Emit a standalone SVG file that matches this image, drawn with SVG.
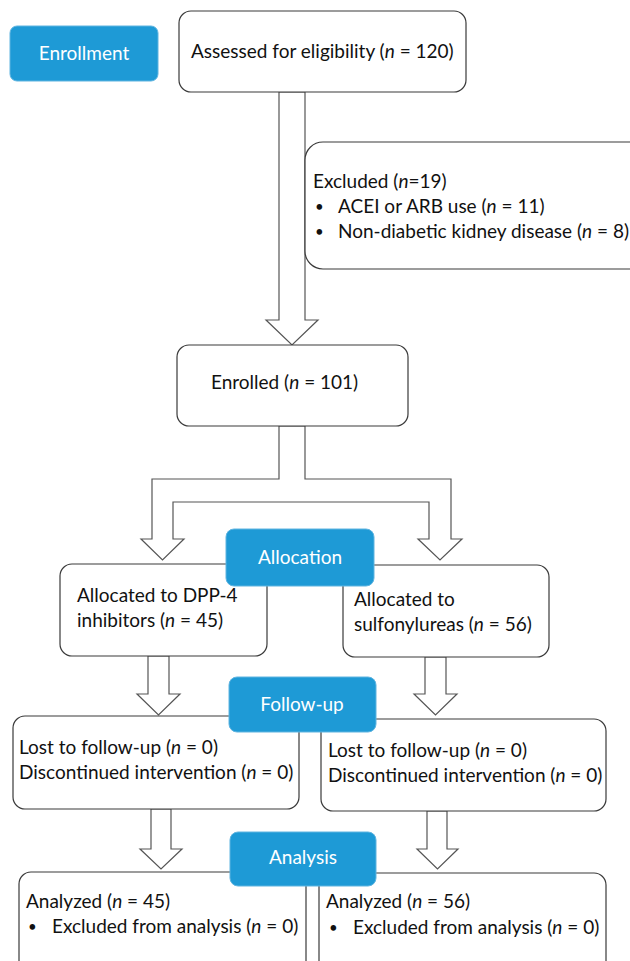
<svg xmlns="http://www.w3.org/2000/svg" width="630" height="961" viewBox="0 0 630 961">
<style>
.box{fill:#ffffff;stroke:#3a3a3a;stroke-width:1.2}
.stage{fill:#1e9ad6;stroke:#5fb4e0;stroke-width:1}
.arrow{fill:#ffffff;stroke:#555555;stroke-width:1.2;stroke-linejoin:miter}
.t{font-family:Lato,"Liberation Sans",sans-serif;font-size:19px;fill:#111111}
.b{font-family:Lato,"Liberation Sans",sans-serif;font-size:15px;fill:#111111}
.st{font-family:Lato,"Liberation Sans",sans-serif;font-size:19px;fill:#ffffff;text-anchor:middle}
.i{font-style:italic}
</style>
<rect width="630" height="961" fill="#ffffff"/>
<g id="connectors">
<polygon class="arrow" points="279,92 305,92 305,320 318,320 292,345 266,320 279,320"/>
<polygon class="arrow" points="279,426 279,479 152,479 152,539 141,539 162.5,560 184,539 173,539 173,502 429,502 429,539 418,539 440,560 462,539 451,539 451,479 305,479 305,426"/>
<polygon class="arrow" points="148,656 169,656 169,694 180,694 158.5,715 137,694 148,694"/>
<polygon class="arrow" points="425,657 446,657 446,694 457,694 435.5,715 414,694 425,694"/>
<polygon class="arrow" points="151,809 171,809 171,849 182,849 161,869 140,849 151,849"/>
<polygon class="arrow" points="427,811 447,811 447,849 458,849 437.5,869 417,849 427,849"/>
</g>
<g id="assessed">
<rect class="box" x="179" y="11" width="287" height="81" rx="12"/>
<text class="t" x="191" y="58">Assessed for eligibility (<tspan class="i">n</tspan> = 120)</text>
</g>
<g id="excluded">
<rect class="box" x="305" y="142" width="345" height="127" rx="18"/>
<text class="t" x="313" y="188">Excluded (<tspan class="i">n</tspan>=19)</text>
<text class="b" x="315" y="212">•</text>
<text class="t" x="338" y="213">ACEI or ARB use (<tspan class="i">n</tspan> = 11)</text>
<text class="b" x="315" y="237">•</text>
<text class="t" x="338" y="238">Non-diabetic kidney disease (<tspan class="i">n</tspan> = 8)</text>
</g>
<g id="enrolled">
<rect class="box" x="177" y="345" width="231" height="81" rx="12"/>
<text class="t" x="211" y="389">Enrolled (<tspan class="i">n</tspan> = 101)</text>
</g>
<g id="alloc-dpp4">
<rect class="box" x="60" y="564" width="207" height="92" rx="12"/>
<text class="t" x="77" y="602">Allocated to DPP-4</text>
<text class="t" x="77" y="627">inhibitors (<tspan class="i">n</tspan> = 45)</text>
</g>
<g id="alloc-su">
<rect class="box" x="343" y="565" width="206" height="92" rx="12"/>
<text class="t" x="354" y="606">Allocated to</text>
<text class="t" x="354" y="631">sulfonylureas (<tspan class="i">n</tspan> = 56)</text>
</g>
<g id="followup-left">
<rect class="box" x="13" y="716" width="286" height="93" rx="12"/>
<text class="t" x="19" y="754">Lost to follow-up (<tspan class="i">n</tspan> = 0)</text>
<text class="t" x="19" y="779">Discontinued intervention (<tspan class="i">n</tspan> = 0)</text>
</g>
<g id="followup-right">
<rect class="box" x="321" y="719" width="285" height="92" rx="12"/>
<text class="t" x="328" y="757">Lost to follow-up (<tspan class="i">n</tspan> = 0)</text>
<text class="t" x="328" y="782">Discontinued intervention (<tspan class="i">n</tspan> = 0)</text>
</g>
<g id="analysis-left">
<rect class="box" x="19" y="872" width="287" height="110" rx="12"/>
<text class="t" x="26" y="908">Analyzed (<tspan class="i">n</tspan> = 45)</text>
<text class="b" x="28" y="932">•</text>
<text class="t" x="52" y="933">Excluded from analysis (<tspan class="i">n</tspan> = 0)</text>
</g>
<g id="analysis-right">
<rect class="box" x="319" y="873" width="287" height="110" rx="12"/>
<text class="t" x="326" y="908">Analyzed (<tspan class="i">n</tspan> = 56)</text>
<text class="b" x="329" y="933">•</text>
<text class="t" x="353" y="934">Excluded from analysis (<tspan class="i">n</tspan> = 0)</text>
</g>
<g id="stage-enrollment">
<rect class="stage" x="10" y="26" width="148" height="55" rx="7"/>
<text class="st" x="84" y="60">Enrollment</text>
</g>
<g id="stage-allocation">
<rect class="stage" x="226" y="529" width="148" height="57" rx="8"/>
<text class="st" x="300" y="564">Allocation</text>
</g>
<g id="stage-followup">
<rect class="stage" x="229" y="677" width="147" height="55" rx="8"/>
<text class="st" x="302" y="711">Follow-up</text>
</g>
<g id="stage-analysis">
<rect class="stage" x="230" y="832" width="146" height="54" rx="8"/>
<text class="st" x="303" y="864">Analysis</text>
</g>
</svg>
